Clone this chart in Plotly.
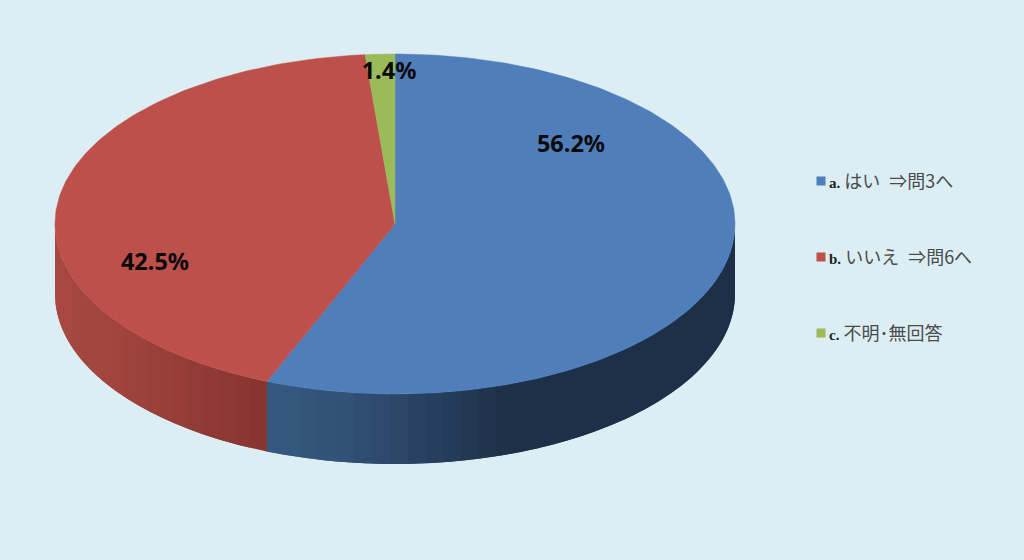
import numpy as np
import plotly.graph_objects as go

# Data
categories = ["a.", "b.", "c."]
answers = ["はい\u2002⇒問3へ", "いいえ\u2002⇒問6へ", "不明･無回答"]
values = [56.2, 42.5, 1.4]

# Style
top_colors = ["#4F7EBA", "#BE504B", "#9BBB59"]
bg = "#DCEEF4"
# side shading: stops of (screen x, rgb)
blue_side = ([266, 340, 400, 450, 505, 735],
             [(54, 90, 130), (50, 82, 120), (44, 70, 104), (37, 60, 90), (30, 49, 73), (29, 48, 72)])
red_side = ([55, 100, 170, 230, 266],
            [(168, 72, 66), (163, 70, 63), (152, 63, 58), (142, 56, 52), (135, 52, 48)])
green_side = ([300, 500], [(110, 135, 60), (110, 135, 60)])
side_shades = [blue_side, red_side, green_side]

CX, CY, RX, RY, DEPTH = 395, 224, 340, 170, 70
label_xy = [(571, 146), (155, 264), (389, 73)]
legend_x, legend_y = 821, [181, 257, 333]
legend_text_x, legend_text_dy = 829, 2

fracs = np.array(values) / sum(values)
edges = np.concatenate([[0], np.cumsum(fracs)]) * 2 * np.pi


def ell(t, dy=0):
    return CX + RX * np.sin(t), CY - RY * np.cos(t) + dy


fig = go.Figure()

# side wall (front half only); strips overlap the next so no seams show
for i, shade in enumerate(side_shades):
    a0, a1 = max(edges[i], np.pi / 2), min(edges[i + 1], 3 * np.pi / 2)
    if a1 <= a0:
        continue
    n = max(2, int(np.degrees(a1 - a0) / 3))
    grid = np.linspace(a0, a1, n + 1)
    step = grid[1] - grid[0]
    for s in grid[:-1]:
        e = min(s + 2 * step, a1)
        t = np.linspace(s, e, 6)
        x0, y0 = ell(t)
        x1, y1 = ell(t[::-1], DEPTH)
        xm = ell(s + step / 2)[0]
        rgb = [np.interp(xm, shade[0], [c[k] for c in shade[1]]) for k in range(3)]
        col = "rgb(%d,%d,%d)" % tuple(rgb)
        fig.add_trace(go.Scatter(
            x=np.concatenate([x0, x1, x0[:1]]), y=np.concatenate([y0, y1, y0[:1]]),
            mode="lines", fill="toself", fillcolor=col,
            line=dict(width=0), hoverinfo="skip", showlegend=False))

# top faces
for i, v in enumerate(values):
    t = np.linspace(edges[i], edges[i + 1], max(3, int(np.degrees(edges[i + 1] - edges[i]))))
    x, y = ell(t)
    fig.add_trace(go.Scatter(
        x=np.concatenate([[CX], x, [CX]]), y=np.concatenate([[CY], y, [CY]]),
        mode="lines", fill="toself", fillcolor=top_colors[i],
        line=dict(color=top_colors[i], width=0.5),
        name=f"{categories[i]} {answers[i]}", text=f"{v}%", hoverinfo="name+text",
        showlegend=False))

# value labels
fig.add_trace(go.Scatter(
    x=[p[0] for p in label_xy], y=[p[1] for p in label_xy],
    text=[f"{v}%" for v in values], mode="text",
    textfont=dict(family="Noto Sans, Open Sans", size=23.5, color="#0A0A0A", weight="bold"),
    textposition="middle center", hoverinfo="skip", showlegend=False))

# legend: swatches and their text
fig.add_trace(go.Scatter(
    x=[legend_x] * len(categories), y=legend_y, mode="markers",
    marker=dict(symbol="square", size=9, color=top_colors),
    hoverinfo="skip", showlegend=False))
fig.add_trace(go.Scatter(
    x=[legend_text_x] * len(categories), y=[y + legend_text_dy for y in legend_y], mode="text",
    text=[f'<span style="font-family:Liberation Serif;font-weight:bold;font-size:15px;color:#222">{c}</span>'
          f' {a}' for c, a in zip(categories, answers)],
    textposition="middle right",
    textfont=dict(family="Noto Sans CJK JP", size=18, color="#4A4A4A"),
    hoverinfo="skip", showlegend=False))

fig.update_layout(
    width=1024, height=560, margin=dict(l=0, r=0, t=0, b=0),
    paper_bgcolor=bg, plot_bgcolor=bg, showlegend=False,
    xaxis=dict(range=[0, 1024], visible=False, fixedrange=True),
    yaxis=dict(range=[560, 0], visible=False, fixedrange=True),
)
fig.write_html(
    "out.html", config=dict(displayModeBar=False),
    post_script="document.body.style.margin='0';document.body.style.overflow='hidden';"
                f"document.body.style.background='{bg}';",
)
